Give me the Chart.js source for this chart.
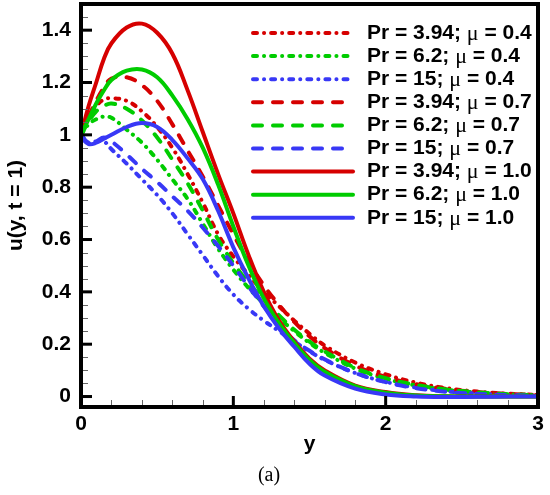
<!DOCTYPE html>
<html>
<head>
<meta charset="utf-8">
<script src="https://cdn.jsdelivr.net/npm/chart.js@4.4.1/dist/chart.umd.min.js"></script>
<style>
  html, body { margin: 0; padding: 0; background: #fff; }
  #wrap { width: 550px; height: 495px; position: relative; }
  #frame { position: absolute; left: 79px; top: 2px; width: 461px; height: 407px;
           box-sizing: border-box; border: 4px solid #000; pointer-events: none; }
</style>
</head>
<body>
<div id="wrap"><canvas id="chart"></canvas><div id="frame"></div></div>
<script>
const yCoord = [0, 0.05, 0.1, 0.15, 0.2, 0.3, 0.4, 0.5, 0.6, 0.7, 0.8, 0.9, 1.0,
                1.1, 1.2, 1.3, 1.4, 1.5, 1.6, 1.8, 2.0, 2.2, 2.4, 2.6, 2.8, 3.0];

const xTickValues = [0, 1, 2, 3];
const uTickValues = [0, 0.2, 0.4, 0.6, 0.8, 1, 1.2, 1.4];

// u(y, t = 1) for each case
const uPr394Mu04 = [1.00, 1.06, 1.11, 1.135, 1.14, 1.13, 1.09, 1.03, 0.95, 0.85, 0.74, 0.62, 0.535,
                    0.465, 0.40, 0.345, 0.29, 0.24, 0.195, 0.13, 0.085, 0.053, 0.032, 0.019, 0.011, 0.006];
const uPr62Mu04  = [1.00, 1.04, 1.06, 1.07, 1.065, 1.02, 0.97, 0.905, 0.83, 0.755, 0.66, 0.565, 0.485,
                    0.415, 0.355, 0.30, 0.25, 0.205, 0.167, 0.107, 0.068, 0.042, 0.026, 0.015, 0.009, 0.005];
const uPr15Mu04  = [1.00, 0.97, 0.975, 0.975, 0.945, 0.89, 0.83, 0.77, 0.70, 0.62, 0.54, 0.46, 0.39,
                    0.335, 0.29, 0.25, 0.21, 0.172, 0.14, 0.09, 0.056, 0.034, 0.02, 0.011, 0.006, 0.003];
const uPr394Mu07 = [1.00, 1.07, 1.13, 1.18, 1.215, 1.22, 1.19, 1.13, 1.04, 0.94, 0.84, 0.73, 0.62,
                    0.515, 0.425, 0.35, 0.285, 0.23, 0.185, 0.118, 0.075, 0.047, 0.029, 0.017, 0.01, 0.006];
const uPr62Mu07  = [1.00, 1.05, 1.09, 1.11, 1.12, 1.10, 1.055, 0.99, 0.905, 0.815, 0.71, 0.60, 0.51,
                    0.435, 0.37, 0.31, 0.255, 0.21, 0.172, 0.11, 0.07, 0.044, 0.027, 0.016, 0.009, 0.005];
const uPr15Mu07  = [1.00, 0.97, 0.975, 0.99, 0.975, 0.925, 0.87, 0.82, 0.765, 0.71, 0.645, 0.575, 0.50,
                    0.42, 0.345, 0.275, 0.215, 0.175, 0.142, 0.09, 0.055, 0.032, 0.018, 0.01, 0.006, 0.003];
const uPr394Mu10 = [1.00, 1.11, 1.20, 1.29, 1.35, 1.41, 1.425, 1.39, 1.31, 1.17, 1.01, 0.85, 0.70,
                    0.54, 0.40, 0.29, 0.21, 0.145, 0.10, 0.042, 0.017, 0.005, 0.001, 0, 0, 0];
const uPr62Mu10  = [1.00, 1.06, 1.12, 1.17, 1.21, 1.245, 1.25, 1.22, 1.15, 1.06, 0.95, 0.81, 0.65,
                    0.50, 0.375, 0.28, 0.205, 0.14, 0.095, 0.04, 0.015, 0.004, 0.001, 0, 0, 0];
const uPr15Mu10  = [0.99, 0.965, 0.97, 0.985, 1.0, 1.03, 1.045, 1.03, 0.98, 0.91, 0.83, 0.71, 0.57,
                    0.45, 0.345, 0.26, 0.19, 0.125, 0.08, 0.03, 0.008, 0.0, -0.002, -0.001, 0, 0];

const seriesLabels = [
  'Pr = 3.94; μ = 0.4', 'Pr = 6.2; μ = 0.4', 'Pr = 15; μ = 0.4',
  'Pr = 3.94; μ = 0.7', 'Pr = 6.2; μ = 0.7', 'Pr = 15; μ = 0.7',
  'Pr = 3.94; μ = 1.0', 'Pr = 6.2; μ = 1.0', 'Pr = 15; μ = 1.0'
];
const seriesValues = [uPr394Mu04, uPr62Mu04, uPr15Mu04,
                      uPr394Mu07, uPr62Mu07, uPr15Mu07,
                      uPr394Mu10, uPr62Mu10, uPr15Mu10];

// styles
const RED = '#d60000', GREEN = '#00cc00', BLUE = '#3838f6';
const DASHDOT = [4, 7, 0.1, 7];
const DASHED = [9, 11];
const seriesColors = [RED, GREEN, BLUE, RED, GREEN, BLUE, RED, GREEN, BLUE];
const seriesDashes = [DASHDOT, DASHDOT, DASHDOT, DASHED, DASHED, DASHED, [], [], []];

const SANS = '"Liberation Sans", Arial, Helvetica, sans-serif';
const boldFont = { family: SANS, size: 21, weight: 'bold' };
const frameBorder = { display: true, color: '#000', width: 4 };

// inward ticks + legend inside the plot, Tecplot style
const plotDecor = {
  id: 'plotDecor',
  afterDatasetsDraw(chart) {
    const { ctx, chartArea: a } = chart;
    const x = chart.scales.x, y = chart.scales.y;
    ctx.save();
    ctx.setLineDash([]);

    // minor ticks
    ctx.fillStyle = '#666';
    for (let k = 1; k < 30; k++) {
      if (k % 4 === 0) continue;
      ctx.fillRect(a.left, Math.round(y.getPixelForValue(k * 0.05)), 7, 1);
    }
    for (let k = 1; k < 15; k++) {
      if (k % 5 === 0) continue;
      ctx.fillRect(Math.round(x.getPixelForValue(k * 0.2)), a.bottom - 7, 1, 7);
    }
    // major ticks
    ctx.fillStyle = '#000';
    uTickValues.forEach(v => ctx.fillRect(a.left, y.getPixelForValue(v) - 1.5, 11, 3));
    xTickValues.forEach(v => ctx.fillRect(x.getPixelForValue(v) - 1.5, a.bottom - 11, 3, 11));

    // legend
    const x0 = a.right - 285, x1 = a.right - 185, tx = a.right - 171;
    const textFont = `bold 21px ${SANS}`;
    const muFont = '22px "Liberation Serif", "Times New Roman", serif';
    chart.data.datasets.forEach((ds, i) => {
      const ry = a.top + 29 + i * 23.1;
      ctx.strokeStyle = ds.borderColor;
      ctx.lineWidth = 4;
      ctx.lineCap = 'round';
      ctx.setLineDash(ds.borderDash || []);
      ctx.beginPath();
      ctx.moveTo(x0, ry);
      ctx.lineTo(x1, ry);
      ctx.stroke();

      ctx.setLineDash([]);
      ctx.fillStyle = '#000';
      ctx.textBaseline = 'middle';
      ctx.textAlign = 'left';
      const parts = ds.label.split('μ');
      let cx = tx;
      ctx.font = textFont;
      ctx.fillText(parts[0], cx, ry);
      cx += ctx.measureText(parts[0]).width;
      ctx.font = muFont;
      ctx.fillText('μ', cx, ry + 1);
      cx += ctx.measureText('μ').width;
      ctx.font = textFont;
      ctx.fillText(parts[1], cx, ry);
    });
    ctx.restore();
  }
};

new Chart(document.getElementById('chart'), {
  type: 'line',
  data: {
    datasets: seriesValues.map((vals, i) => ({
      label: seriesLabels[i],
      data: vals.map((u, k) => ({ x: yCoord[k], y: u })),
      borderColor: seriesColors[i],
      borderDash: seriesDashes[i],
      borderWidth: 4,
      borderCapStyle: 'round',
      borderJoinStyle: 'round',
      pointRadius: 0,
      tension: 0.4,
      fill: false,
      order: seriesValues.length - i
    }))
  },
  options: {
    responsive: true,
    maintainAspectRatio: false,
    animation: false,
    layout: { padding: { top: 4, right: 12, left: 0, bottom: 0 } },
    plugins: {
      legend: { display: false },
      tooltip: { enabled: false },
      title: {
        display: true,
        position: 'bottom',
        text: '(a)',
        color: '#000',
        font: { family: '"Liberation Serif", "Times New Roman", serif', size: 20, weight: 'normal' },
        padding: { top: 1, bottom: 7 }
      }
    },
    scales: {
      x: {
        type: 'linear',
        min: 0,
        max: 3,
        afterBuildTicks: s => { s.ticks = xTickValues.map(v => ({ value: v })); },
        afterFit: s => { s.height = 56; s.paddingLeft = 0; s.paddingRight = 0; },
        grid: { display: false, drawTicks: false },
        border: frameBorder,
        ticks: { color: '#000', font: boldFont, padding: 5, maxRotation: 0, autoSkip: false,
                 callback: v => String(v) },
        title: { display: true, text: 'y', color: '#000', font: boldFont, padding: { top: 0, bottom: 6 } }
      },
      y: {
        type: 'linear',
        min: -0.04,
        max: 1.5,
        afterBuildTicks: s => { s.ticks = uTickValues.map(v => ({ value: v })); },
        afterFit: s => { s.width = 81; s.paddingTop = 0; s.paddingBottom = 0; },
        grid: { display: false, drawTicks: false },
        border: frameBorder,
        ticks: { color: '#000', font: boldFont, padding: 10, autoSkip: false,
                 callback: v => String(v) },
        title: { display: true, text: 'u(y, t = 1)', color: '#000', font: boldFont,
                 padding: { top: 4, bottom: 0 } }
      }
    }
  },
  plugins: [plotDecor]
});
</script>
</body>
</html>
